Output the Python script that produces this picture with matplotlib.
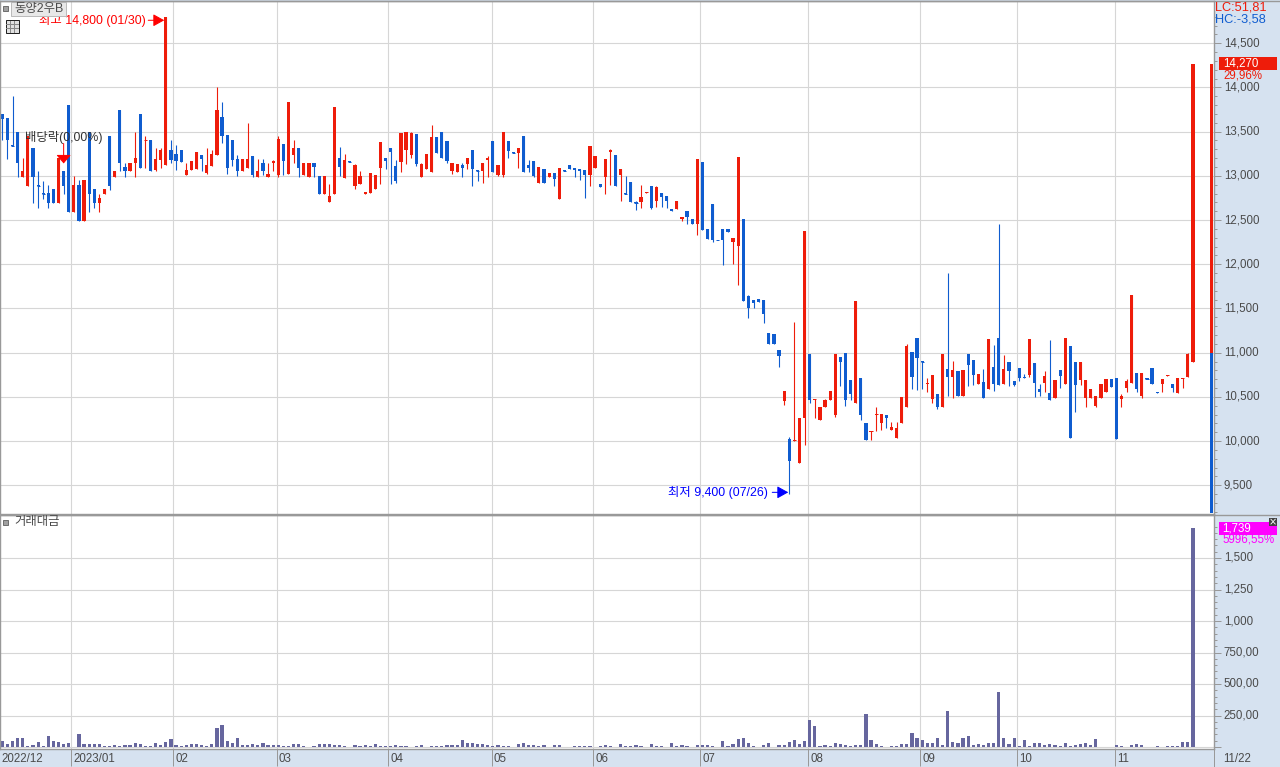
import matplotlib
matplotlib.use('Agg')
import matplotlib.pyplot as plt
from matplotlib.patches import Rectangle
from matplotlib.transforms import ScaledTranslation
import numpy as np

W, H = 1280, 767
plt.rcParams['font.family'] = ['Liberation Sans', 'Noto Sans CJK KR', 'DejaVu Sans']

# daily candles (won)
opens = [13700,13660,13350,13500,12990,12890,13310,12900,12810,12810,
         12850,12690,13060,13800,12590,12900,12490,13500,12850,12690,
         12800,13450,12990,13750,13100,13050,13140,13700,13400,13410,
         13070,13180,13120,13290,13250,13290,13010,13070,13080,13240,
         13030,13110,13240,13670,13460,13410,13190,13050,13090,13230,
         12990,13150,12990,13140,13010,13360,13020,13240,13310,13010,
         12990,13150,13000,12790,12700,12790,13200,12980,13170,12880,
         12910,12790,12810,12850,13090,13200,13310,13110,13160,13290,
         13240,13470,12990,13080,13040,13440,13500,13390,13050,13040,
         13120,13130,13290,13070,13060,13180,13390,13010,13010,13390,
         13270,13260,13450,13120,13170,12920,13080,12990,13030,12740,
         13070,13120,13090,13080,13070,13010,13090,12910,12990,13270,
         13240,13010,12810,12930,12700,12700,12810,12890,12710,12810,
         12770,12630,12630,12510,12600,12510,12450,13160,12400,12680,
         12280,12400,12400,12250,12210,12510,11640,11600,11610,11600,
         11220,11210,11030,10450,10020,10000,9750,10260,10980,10470,
         10240,10380,10460,10300,10950,11000,10690,10430,10710,10210,
         10100,10300,10210,10300,10120,10040,10210,10390,11010,11170,
         10910,10640,10480,10530,10390,10810,10730,10790,10510,10980,
         10920,10640,10670,10590,10840,11170,10640,10900,10680,10830,
         10730,10750,10880,10590,10660,10540,10490,10800,10640,11080,
         10900,10690,10490,10490,10400,10490,10560,10700,10710,10480,
         10600,10660,10770,10510,10710,10830,10560,10640,10740,10640,
         10540,10700,10730,10890]
highs = [13700,13660,13900,13500,13200,13450,13310,13060,12940,12900,
         12850,13200,13060,13800,13000,12950,12950,13500,12850,12800,
         12850,13450,13060,13750,13150,13150,13500,13700,13450,13410,
         13310,13310,14800,13400,13350,13290,13150,13170,13270,13240,
         13310,13290,14000,13830,13460,13410,13240,13190,13600,13230,
         13190,13190,13150,13180,13450,13360,13840,13400,13310,13150,
         13150,13150,13000,13000,12910,13780,13330,13250,13170,13130,
         13050,12820,13030,13010,13380,13200,13310,13180,13480,13500,
         13500,13470,13140,13250,13570,13440,13500,13390,13140,13130,
         13140,13200,13290,13070,13140,13220,13390,13120,13500,13390,
         13270,13310,13450,13180,13170,13100,13080,13030,13030,13090,
         13070,13120,13090,13080,13070,13340,13220,12910,13190,13300,
         13240,13080,13000,12930,12710,12900,12820,12890,12890,12810,
         12770,12630,12720,12540,12600,12510,13190,13160,12400,12680,
         12280,12400,12400,12300,13210,12510,11650,11600,11610,11600,
         11220,11210,11030,10570,10050,11350,10260,12380,10980,10480,
         10390,10480,10570,10990,10950,11000,10690,11590,10710,10210,
         10110,10390,10310,10300,10220,10220,10500,11100,11010,11170,
         10910,10710,10750,10530,10980,11900,10910,10790,10800,10980,
         10920,10760,10820,11160,11090,12460,10970,10900,10680,10830,
         10760,11160,10880,10650,10790,11140,10690,10800,11170,11080,
         10900,10890,10690,10590,10510,10650,10700,10700,10710,10530,
         10700,11650,10770,10770,10710,10830,10560,10700,10750,10640,
         10710,10710,11000,14270]
lows = [13400,13190,13340,12990,12990,12890,12690,12640,12740,12640,
        12690,12690,12800,12590,12590,12490,12490,12590,12640,12590,
        12800,12840,12990,13050,12990,13050,12990,13090,13090,13050,
        13050,13090,13120,13140,13070,13160,13010,13070,13080,13050,
        13020,13110,13240,13370,13020,13110,13000,13050,13090,12990,
        12990,13010,12990,13050,12990,13010,13020,13140,12990,13010,
        12990,12990,12790,12790,12700,12790,13000,12980,13160,12850,
        12910,12790,12810,12850,12910,13080,12910,12920,13040,13130,
        13200,13110,12990,13080,13040,13260,13200,13140,13020,13040,
        12990,13080,12880,12940,12920,12990,13040,13000,12990,13200,
        13260,13090,13040,13040,12990,12920,12920,12990,12880,12740,
        13060,13080,12990,12950,12750,12880,13090,12870,12790,12900,
        12880,12710,12800,12700,12610,12640,12810,12620,12650,12650,
        12640,12600,12630,12490,12450,12450,12330,12390,12290,12250,
        12270,11990,12370,12000,11760,11590,11390,11500,11570,11330,
        11100,11100,10840,10410,9400,10000,9750,9950,10430,10260,
        10240,10380,10460,10270,10620,10400,10470,10430,10240,10010,
        10010,10110,10130,10150,10120,10040,10210,10390,10590,10580,
        10590,10560,10430,10360,10390,10510,10490,10510,10510,10620,
        10630,10640,10490,10590,10570,10630,10640,10620,10620,10680,
        10710,10720,10500,10510,10560,10470,10490,10600,10640,10030,
        10330,10630,10380,10490,10390,10490,10560,10610,10020,10390,
        10550,10660,10560,10490,10700,10640,10540,10550,10740,10550,
        10540,10600,10730,10890]
closes = [13640,13400,13340,13140,13060,13450,12990,12890,12800,12690,
          12690,13200,12890,12590,12900,12490,12950,12800,12690,12750,
          12850,12890,13060,13140,13050,13150,13200,13090,13410,13050,
          13190,13290,14800,13180,13170,13160,13070,13170,13270,13190,
          13120,13250,13740,13450,13090,13180,13050,13190,13190,13010,
          13060,13060,13020,13170,13420,13170,13840,13310,13090,13150,
          13150,13100,12790,13000,12770,13780,13100,13180,13160,13120,
          13000,12820,13030,13010,13380,13170,13270,12940,13480,13500,
          13480,13130,13130,13250,13440,13260,13200,13170,13140,13130,
          13090,13200,13080,13060,13140,13200,13040,13120,13500,13280,
          13260,13310,13040,13090,13000,13100,12920,13030,12960,13090,
          13060,13080,13070,13050,13010,13340,13220,12870,13190,13290,
          12880,13080,12800,12700,12690,12760,12820,12640,12870,12760,
          12710,12600,12720,12540,12540,12450,13190,12390,12290,12270,
          12270,12270,12370,12300,13210,11590,11500,11560,11570,11440,
          11100,11100,10960,10570,9770,10010,10260,12380,10470,10480,
          10390,10470,10570,10990,10890,10470,10530,11590,10300,10010,
          10110,10310,10310,10260,10160,10150,10500,11070,10720,10940,
          10900,10660,10750,10390,10980,10730,10800,10510,10800,10860,
          10750,10760,10490,11160,10640,10630,10820,10790,10630,10710,
          10710,11160,10660,10560,10740,10470,10690,10740,11170,10030,
          10630,10890,10690,10590,10510,10650,10700,10610,10020,10510,
          10680,11650,10590,10770,10700,10640,10540,10700,10750,10600,
          10710,10710,10990,14270]

# trading value per candle
volumes = [48,24,48,72,72,8,16,40,8,88,48,40,24,32,0,104,24,24,24,24,
           8,8,16,8,16,16,32,24,8,8,32,16,40,64,16,8,16,24,24,16,
           8,24,152,176,48,32,72,16,16,24,16,32,16,16,16,8,8,24,24,8,
           0,8,24,24,24,16,16,8,0,16,8,16,8,24,8,8,8,16,8,8,
           0,8,16,0,
           8,8,8,16,16,16,56,32,32,24,24,16,8,16,8,8,0,24,32,16,
           16,8,16,0,16,16,0,0,8,8,8,8,0,8,16,8,0,24,8,8,
           16,8,0,24,8,8,0,32,8,16,8,0,16,16,16,8,0,48,8,24,
           64,72,32,8,0,16,32,0,16,16,40,56,24,48,216,168,8,16,8,32,
           24,16,8,16,
           16,264,56,24,8,0,8,8,24,24,112,72,56,32,32,72,16,288,40,32,
           72,88,16,24,16,32,32,440,72,24,72,8,56,8,32,32,16,24,16,8,
           32,8,16,24,32,16,64,0,0,0,16,8,0,16,24,16,0,0,8,0,
           8,8,8,40,40,1739]

# where each month starts, in candle units
month_pos = [13.5,33.46,53.7,75.5,95.8,115.6,136.6,157.7,179.6,198.6,217.8]
month_names = ['2023/01','02','03','04','05','06','07','08','09','10','11']

price_ticks = [14500,14000,13500,13000,12500,12000,11500,11000,10500,10000,9500]
vol_ticks = [1500,1250,1000,750,500,250,0]
vol_labels = ['1,500','1,250','1,000','750,00','500,00','250,00','']

last_price = 14270
range_split = 11000
range_floor = 9190

RED = '#EE1C0A'
BLUE = '#0F5CCF'
GRID = '#D6D6D6'
FRAME = '#999999'
STRIP = '#D6E2F0'
TXT = '#4A4A4A'
PURPLE = '#66669E'
LABEL = 8.3
NOTE = 8.9

def axes_px(left, top, right, bottom):
    return [left/W, 1-bottom/H, (right-left)/W, (bottom-top)/H]

def ftext(x, y, s, **kw):
    kw.setdefault('va', 'center')
    return fig.text(x/W, 1-y/H, s, **kw)

fig = plt.figure(figsize=(W/100, H/100), dpi=100, facecolor=STRIP)
ax = fig.add_axes(axes_px(0, 1, 1214, 514))
ax2 = fig.add_axes(axes_px(0, 515, 1214, 749))

opens, highs, lows, closes = map(np.array, (opens, highs, lows, closes))
idx = np.arange(len(opens))
up = closes >= opens
colors = np.where(up, RED, BLUE)

xlim = (-2.33/5.11, (1214-2.33)/5.11)
px_w = 0.72  # one pixel in points
bw = 3.2/5.11

for a in (ax, ax2):
    a.set_xlim(xlim)
    a.set_axisbelow(True)
    a.grid(True, color=GRID, lw=1.1*px_w)
    a.set_xticks(month_pos)
    a.yaxis.tick_right()
    a.tick_params(axis='y', direction='out', length=5, width=px_w, color=FRAME,
                  labelcolor=TXT, labelsize=LABEL, pad=2)
    a.tick_params(axis='y', which='minor', direction='out', length=2.2, width=px_w, color=FRAME)
    for s in a.spines.values():
        s.set_color(FRAME)
        s.set_linewidth(1.4*px_w)

ax.set_ylim(9175, 14978)
ax.set_yticks(price_ticks, labels=[f'{p:,}' for p in price_ticks])
ax.set_yticks(np.arange(9200, 14900, 100), minor=True)
ax.tick_params(axis='x', length=0, labelbottom=False)

# wicks then bodies
ax.vlines(idx, lows, highs, colors=colors, lw=px_w*1.1)
bottoms = np.minimum(opens, closes)
heights = np.abs(closes-opens)
ax.bar(idx, heights, bottom=bottoms, width=bw, color=colors, lw=0)
flat = heights <= 15
ax.hlines(closes[flat], idx[flat]-bw/2, idx[flat]+bw/2, colors=colors[flat], lw=px_w)

# current price range bar at the far right
bar_x = (1211.7-2.33)/5.11
ax.bar(bar_x, last_price-range_split, bottom=range_split, width=bw, color=RED, lw=0)
ax.bar(bar_x, range_split-range_floor, bottom=range_floor, width=bw, color=BLUE, lw=0)

# high / low marks, a little below the very top of the candle
hi = int(np.argmax(highs))
lo = int(np.argmin(lows))
ax.annotate('', xy=(hi-bw/2, 14760), xytext=(-16, 0), textcoords='offset pixels',
            arrowprops=dict(arrowstyle='-|>,head_width=0.25,head_length=0.45', mutation_scale=15,
                            color='#FF0000', lw=px_w, shrinkA=0, shrinkB=0))
ax.annotate('최고 14,800 (01/30)', xy=(hi, 14760), xytext=(-127, 0), textcoords='offset pixels',
            color='#FF0000', fontsize=NOTE, va='center', ha='left')
ax.annotate('', xy=(lo-0.2, 9420), xytext=(-16, 0), textcoords='offset pixels',
            arrowprops=dict(arrowstyle='-|>,head_width=0.25,head_length=0.45', mutation_scale=15,
                            color='#0000FF', lw=px_w, shrinkA=0, shrinkB=0))
ax.annotate('최저 9,400 (07/26)', xy=(lo, 9420), xytext=(-121, 0), textcoords='offset pixels',
            color='#0000FF', fontsize=NOTE, va='center', ha='left')

# ex-dividend mark on candle 12
ax.annotate('', xy=(12, 13140), xytext=(0, 20), textcoords='offset pixels',
            arrowprops=dict(arrowstyle='-|>,head_width=0.3,head_length=0.35', mutation_scale=15,
                            color='#FF0000', lw=px_w, shrinkA=0, shrinkB=0))
ftext(25, 137, '배당락(0,00%)', color='#333333', fontsize=NOTE, ha='left')

# volume pane
ax2.set_ylim((747-749)/0.126, (747-515)/0.126)
ax2.bar(idx, volumes, width=bw, color=PURPLE, lw=0)
ax2.set_yticks(vol_ticks, labels=vol_labels)
ax2.set_yticks(np.arange(0, 1800, 50), minor=True)
ax2.tick_params(axis='x', direction='out', length=12.5, width=px_w, color=FRAME, labelbottom=False)

# tick labels sit slightly above their grid line in the original
nudge = ScaledTranslation(0, 1.5/100, fig.dpi_scale_trans)
for a in (ax, ax2):
    for lab in a.get_yticklabels():
        lab.set_transform(lab.get_transform() + nudge)

# month labels under the ticks
for pos, name in zip(month_pos, month_names):
    ax2.annotate(name, xy=(pos, 0), xycoords=ax2.get_xaxis_transform(), xytext=(2, -10),
                 textcoords='offset pixels', color=TXT, fontsize=LABEL, va='center', ha='left')
ftext(1, 759, '2022/12', color=TXT, fontsize=LABEL, ha='left')
ftext(1223, 759, '11/22', color=TXT, fontsize=LABEL, ha='left')
fig.add_artist(plt.Line2D([1214/W, 1214/W], [0, 18/H], color=FRAME, lw=px_w))

# right strip texts
ftext(1215, 8, 'LC:51,81', color=RED, fontsize=9.2, ha='left')
ftext(1215, 20, 'HC:-3,58', color=BLUE, fontsize=9.2, ha='left')
fig.add_artist(Rectangle((1219/W, 1-70/H), 58/W, 13/H, transform=fig.transFigure, color='#EE1C0A', lw=0))
ftext(1223, 63.5, '14,270', color='white', fontsize=LABEL, ha='left')
ftext(1223, 75, '29,96%', color=RED, fontsize=LABEL, ha='left')
fig.add_artist(Rectangle((1219/W, 1-535/H), 58/W, 13/H, transform=fig.transFigure, color='#FF00FF', lw=0))
ftext(1222, 528.5, '1,739', color='white', fontsize=LABEL, ha='left')
ftext(1222, 540, '5996,55%', color='#FF00FF', fontsize=LABEL, ha='left')
fig.add_artist(Rectangle((1269/W, 1-526/H), 8/W, 8/H, transform=fig.transFigure, color='#444444', lw=0))
ftext(1273, 522, '×', color='white', fontsize=7, ha='center', family='DejaVu Sans')

# header widgets
fig.add_artist(Rectangle((11/W, 1-16/H), 55/W, 14/H, transform=fig.transFigure, fc='#E8E8E8', ec='#BBBBBB', lw=px_w))
ftext(14, 9, '동양2우B', color=TXT, fontsize=NOTE, ha='left')
fig.add_artist(Rectangle((3/W, 1-11/H), 5/W, 5/H, transform=fig.transFigure, fc='#A0A0A0', ec='#707070', lw=px_w))
fig.add_artist(Rectangle((5.5/W, 1-33/H), 13/W, 13/H, transform=fig.transFigure, fc='#E0E0E0', ec='#222222', lw=px_w))
for k in (9.5, 13.5):
    fig.add_artist(plt.Line2D([k/W, k/W], [1-32/H, 1-21/H], color='#888888', lw=px_w))
for k in (24, 28):
    fig.add_artist(plt.Line2D([6/W, 18/W], [1-k/H, 1-k/H], color='#888888', lw=px_w))
fig.add_artist(Rectangle((3/W, 1-525/H), 5/W, 5/H, transform=fig.transFigure, fc='#A0A0A0', ec='#707070', lw=px_w))
ftext(14, 522, '거래대금', color=TXT, fontsize=NOTE, ha='left')

# outer frame of the strips
fig.add_artist(plt.Line2D([0, 1], [1-514.5/H, 1-514.5/H], color=FRAME, lw=1.4*px_w))
fig.add_artist(plt.Line2D([0, 1], [1-0.5/H, 1-0.5/H], color=FRAME, lw=1.4*px_w))
fig.add_artist(plt.Line2D([1-0.5/W, 1-0.5/W], [0, 1], color=FRAME, lw=px_w))

fig.savefig('out.png', dpi=100, facecolor=STRIP)
